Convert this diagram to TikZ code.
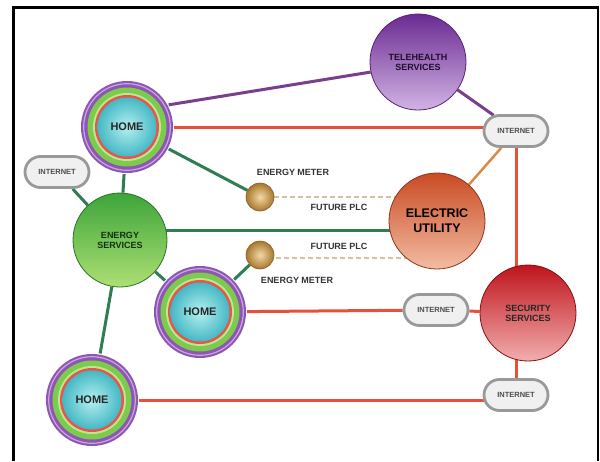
\documentclass[tikz,border=0pt]{standalone}
\usepackage{fontspec}
\setmainfont{Liberation Sans}
\usetikzlibrary{backgrounds,shapes.misc}
\definecolor{cpurple}{HTML}{8E55B5}
\definecolor{clav}{HTML}{C9A6DC}
\definecolor{cgreen}{HTML}{7CCB4C}
\definecolor{clgreen}{HTML}{BFE596}
\definecolor{cred}{HTML}{E4574A}
\definecolor{ccyanin}{HTML}{B5F0F0}
\definecolor{ccyanout}{HTML}{45B8C4}
\definecolor{lred}{HTML}{E8503C}
\definecolor{lgreen}{HTML}{2F7D52}
\definecolor{lpurple}{HTML}{7A3F8C}
\definecolor{lorange}{HTML}{D98A48}
\definecolor{ldash}{HTML}{D2C2A2}
\definecolor{teletop}{HTML}{6A2A92}
\definecolor{telebot}{HTML}{D2B4E4}
\definecolor{eutop}{HTML}{C94B24}
\definecolor{eubot}{HTML}{F3BCA2}
\definecolor{sectop}{HTML}{BF141C}
\definecolor{secbot}{HTML}{F2AEAE}
\definecolor{estop}{HTML}{3CA53A}
\definecolor{esbot}{HTML}{AEDF74}
\definecolor{metin}{HTML}{F2D9A6}
\definecolor{metout}{HTML}{A8772E}
\tikzset{
  homenode/.style={circle, minimum size=94pt, inner sep=0pt, font=\bfseries\fontsize{11}{12}\selectfont, text=black!85,
    path picture={
      \fill[cpurple] (path picture bounding box.center) circle (46pt);
      \draw[clav, line width=1.2pt] (path picture bounding box.center) circle (43.3pt);
      \fill[cgreen] (path picture bounding box.center) circle (39.5pt);
      \fill[clgreen] (path picture bounding box.center) circle (34pt);
      \fill[cred] (path picture bounding box.center) circle (32pt);
      \shade[inner color=ccyanin, outer color=ccyanout] (path picture bounding box.center) circle (29.5pt);
    }},
  service/.style={circle, minimum size=#1, inner sep=0pt, align=center, line width=0.8pt, font=\bfseries\fontsize{9}{10}\selectfont},
  inet/.style={rounded rectangle, draw=gray!80, line width=2.8pt, fill=gray!12, minimum width=64pt, minimum height=31pt,
    inner sep=0pt, font=\bfseries\fontsize{7.5}{8}\selectfont, text=black!70},
  meter/.style={circle, minimum size=28pt, inner sep=0pt, draw=metout!80!black, line width=0.6pt, inner color=metin, outer color=metout},
  lbl/.style={font=\bfseries\fontsize{9}{10}\selectfont, text=black!80},
  redl/.style={lred, line width=3pt},
  greenl/.style={lgreen, line width=3pt},
  purpl/.style={lpurple, line width=3pt},
  orgl/.style={lorange, line width=2.5pt},
  dashl/.style={ldash, line width=1.6pt, dash pattern=on 5pt off 3pt},
}
\begin{document}
\begin{tikzpicture}[x=1pt,y=-1pt]
\useasboundingbox (0,0) rectangle (600,461);
% nodes
\node[homenode] (h1) at (127,127) {HOME};
\node[homenode] (h2) at (200,312) {HOME};
\node[homenode] (h3) at (92,400) {HOME};
\node[service=96pt, draw=teletop!80!black, top color=teletop, bottom color=telebot, text=black!70!teletop] (tele) at (418,62) {TELEHEALTH\\SERVICES};
\node[service=96pt, draw=eutop!70!black, top color=eutop, bottom color=eubot, font=\bfseries\fontsize{12.5}{15}\selectfont] (eu) at (437,221) {ELECTRIC\\UTILITY};
\node[service=96pt, draw=sectop!70!black, top color=sectop, bottom color=secbot, text=black!85] (sec) at (528,313) {SECURITY\\SERVICES};
\node[service=94pt, draw=estop!70!black, top color=estop, bottom color=esbot, text=black!70!estop] (es) at (120,240) {ENERGY\\SERVICES};
\node[inet] (i1) at (516,131) {INTERNET};
\node[inet] (iL) at (57,172) {INTERNET};
\node[inet] (i2) at (436,310) {INTERNET};
\node[inet] (i3) at (516,395) {INTERNET};
\node[meter] (m1) at (260,197) {};
\node[meter] (m2) at (260,255) {};
\node[lbl] (l1) at (293,172) {ENERGY METER};
\node[lbl] (l2) at (339,207) {FUTURE PLC};
\node[lbl] (l3) at (339,246) {FUTURE PLC};
\node[lbl] (l4) at (297,280) {ENERGY METER};
% connectors
\begin{pgfonlayer}{background}
\fill[white] (0,0) rectangle (600,461);
\draw[purpl] (h1.28) -- (tele.192);
\draw[purpl] (tele) -- (i1);
\draw[redl] (h1) -- (h1 -| i1);
\draw[greenl] (h1) -- (m1);
\draw[greenl] (h1) -- (es);
\draw[greenl] (iL) -- (es);
\draw[greenl] (es.12) -- (es.12 -| eu);
\draw[greenl] (es) -- (h2);
\draw[greenl] (es) -- (h3);
\draw[greenl] (m2) -- (h2);
\draw[orgl] (i1) -- (eu);
\draw[redl] (i1) -- (i1 |- sec);
\draw[redl] (h2) -- (i2) -- (sec);
\draw[redl] (h3) -- (h3 -| i3);
\draw[redl] (i3) -- (i3 |- sec);
\draw[dashl] (m1) -- (m1 -| eu);
\draw[dashl] ([yshift=-3pt]m2.center) -- ([yshift=-3pt]m2.center -| eu);
\end{pgfonlayer}
% frame
\draw[line width=2.2pt] (13.5,461) -- (13.5,7.5) -- (598,7.5) -- (598,461);
\end{tikzpicture}
\end{document}
